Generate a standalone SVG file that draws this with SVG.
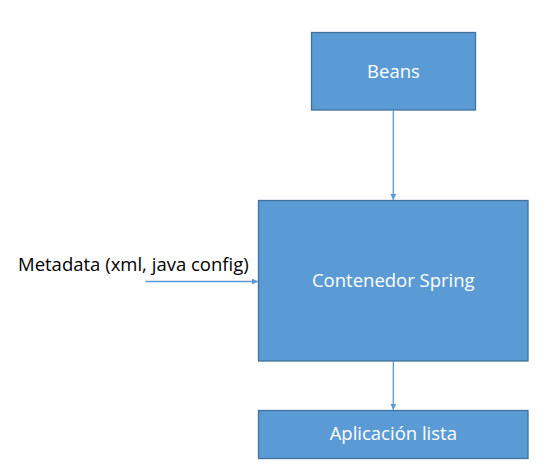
<svg xmlns="http://www.w3.org/2000/svg" width="554" height="476" viewBox="0 0 554 476">
<style>
.box{fill:#5B9BD5;stroke:#41719C;stroke-width:1.3}
.lbl{font-family:"Open Sans","Liberation Sans",sans-serif;font-size:18.5px;fill:#fff;text-anchor:middle}
.ext{font-family:"Open Sans","Liberation Sans",sans-serif;font-size:18.5px;fill:#000}
.con{stroke:#5B9BD5;stroke-width:1.3;fill:none;marker-end:url(#ah)}
</style>
<defs>
<marker id="ah" viewBox="0 0 10 10" refX="10" refY="5" markerWidth="6" markerHeight="6" markerUnits="userSpaceOnUse" orient="auto">
<path d="M0,0 L10,5 L0,10 z" fill="#5B9BD5"/>
</marker>
</defs>
<rect width="554" height="476" fill="#fff"/>
<g id="beans"><rect class="box" x="311.5" y="32.5" width="164" height="77.5"/><text class="lbl" x="393.5" y="78">Beans</text></g>
<g id="contenedor"><rect class="box" x="258.5" y="200.5" width="269.5" height="160.5"/><text class="lbl" x="393.3" y="287">Contenedor Spring</text></g>
<g id="aplicacion"><rect class="box" x="258.5" y="410.5" width="269.5" height="48"/><text class="lbl" x="393.3" y="440">Aplicación lista</text></g>
<g id="metadata"><text class="ext" x="18" y="271">Metadata (xml, java config)</text></g>
<g id="connectors">
<line class="con" x1="393.3" y1="110" x2="393.3" y2="200"/>
<line class="con" x1="145.5" y1="281.5" x2="258" y2="281.5"/>
<line class="con" x1="393.3" y1="361" x2="393.3" y2="410"/>
</g>
</svg>
